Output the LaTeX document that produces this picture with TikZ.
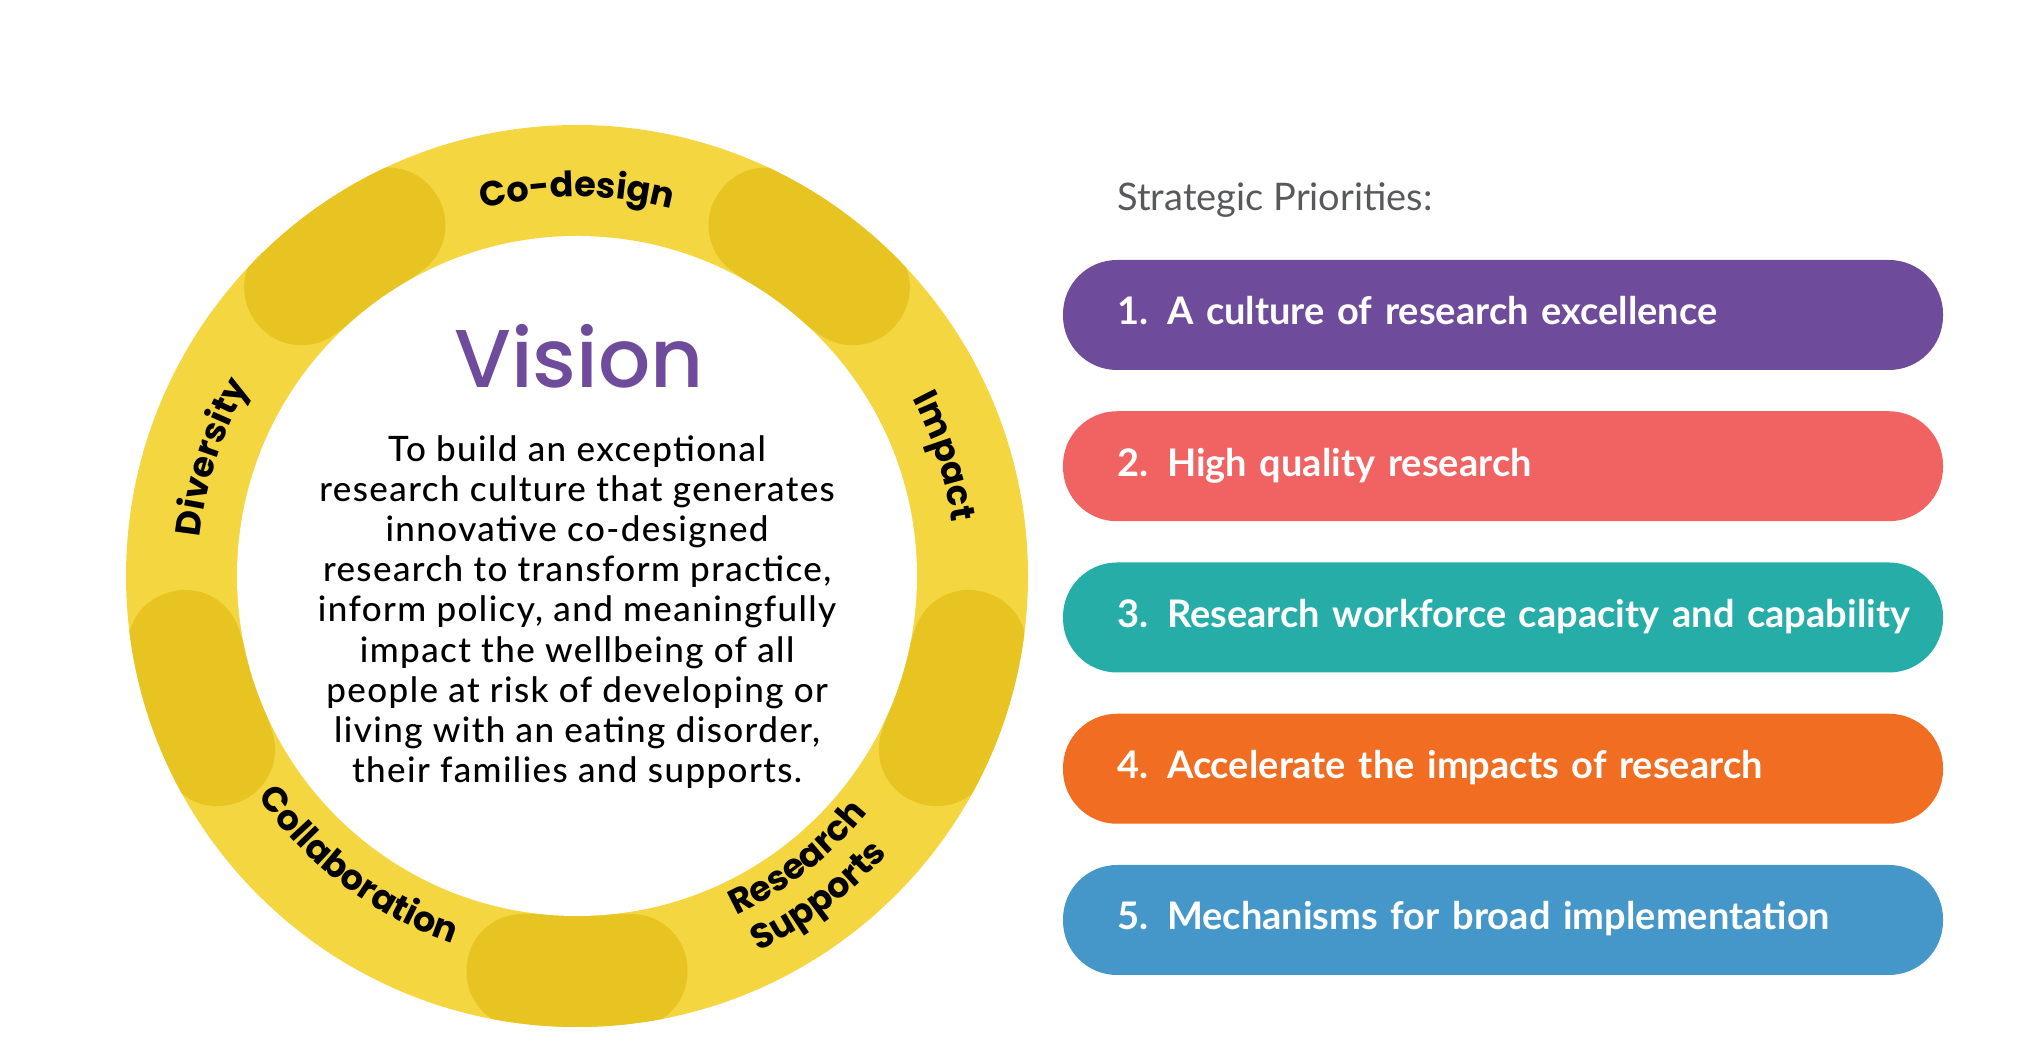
\documentclass[tikz,border=0pt]{standalone}
\usepackage{fontspec}
\usetikzlibrary{decorations.text}
\setmainfont{Lato}
\newfontfamily\ringfont{Poppins}
\newfontfamily\visionfont{Poppins Medium}
\newfontfamily\bodyfont{Lato Medium}[LetterSpace=4]

\definecolor{ringyellow}{HTML}{F4D640}
\definecolor{blobyellow}{HTML}{E8C423}
\definecolor{vpurple}{HTML}{6F4C9B}
\definecolor{pcoral}{HTML}{F06362}
\definecolor{pteal}{HTML}{26ADA8}
\definecolor{porange}{HTML}{F16D22}
\definecolor{pblue}{HTML}{4697C9}
\definecolor{titlegrey}{HTML}{58595B}

\newcommand{\ringlabel}{\ringfont\bfseries\fontsize{35}{35}\selectfont}

\begin{document}
\begin{tikzpicture}[x=1pt,y=1pt,
  blob/.style={rectangle,rounded corners=56pt,minimum width=221pt,minimum height=114pt,inner sep=0pt,fill=blobyellow},
  prio/.style={rectangle,rounded corners=54pt,minimum width=880pt,minimum height=110pt,
    inner xsep=54pt,inner ysep=0pt,text width=772pt,align=left,text height=20pt,text depth=0pt,
    text=white,font=\bfseries\fontsize{38}{38}\selectfont},
  along/.style={decorate,decoration={text along path,text align=center,text={#1}}}]
  \useasboundingbox (0,0) rectangle (2020,1064);
  % the ring with its five darker pads
  \coordinate (ring) at (577,488);
  \fill[ringyellow] (ring) circle[radius=451];
  \begin{scope}
    \clip (ring) circle[radius=451];
    \foreach \a in {54,126,198,270,342}
      \node[blob,rotate=\a+90] (blob\a) at ([shift={(\a:395)}]ring) {};
  \end{scope}
  \fill[white] (ring) circle[radius=340];
  % words round the ring
  \path[along={|\ringlabel|Co-design},shift={(ring)}] (130:379) arc[start angle=130,end angle=50,radius=379];
  \path[along={|\ringlabel|Impact},shift={(ring)}] (58:379) arc[start angle=58,end angle=-22,radius=379];
  \path[along={|\ringlabel|Diversity},shift={(ring)}] (202:379) arc[start angle=202,end angle=122,radius=379];
  \path[along={|\ringlabel|Collaboration},shift={(ring)}] (188:388) arc[start angle=188,end angle=278,radius=388];
  \path[along={|\ringlabel|Research},shift={(ring)}] (268:375) arc[start angle=268,end angle=348,radius=375];
  \path[along={|\ringlabel|Supports},shift={(ring)}] (267:417) arc[start angle=267,end angle=347,radius=417];
  % centre
  \node[anchor=base,text=vpurple,font=\visionfont\fontsize{82}{82}\selectfont] (vision) at (579,676.5) {Vision};
  \node[anchor=north,align=center,inner sep=0pt,font=\bodyfont\fontsize{35}{40.2}\selectfont] (mission) at (577,629)
    {To build an exceptional\\research culture that generates\\innovative co-designed\\research to transform practice,\\inform policy, and meaningfully\\impact the wellbeing of all\\people at risk of developing or\\living with an eating disorder,\\their families and supports.};
  % strategic priorities
  \node[anchor=base west,text=titlegrey,font=\fontsize{38}{38}\selectfont] (title) at (1114,853) {Strategic Priorities:};
  \foreach \i/\c/\t in {1/vpurple/A culture of research excellence,
                        2/pcoral/High quality research,
                        3/pteal/Research workforce capacity and capability,
                        4/porange/Accelerate the impacts of research,
                        5/pblue/Mechanisms for broad implementation}
    \node[prio,fill=\c] (p\i) at (1503,900.25-151.25*\i) {\mbox{\i.\enspace\t}};
\end{tikzpicture}
\end{document}
